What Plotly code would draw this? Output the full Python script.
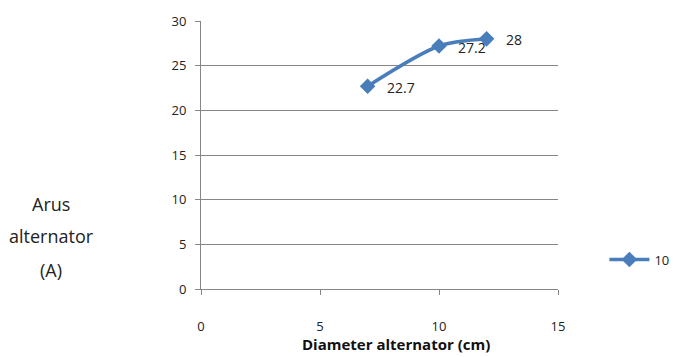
import plotly.graph_objects as go

diameter = [7, 10, 12]
arus = [22.7, 27.2, 28]
labels = ["22.7", "27.2", "28"]
series_name = "10"
x_ticks = [0, 5, 10, 15]
y_ticks = [0, 5, 10, 15, 20, 25, 30]
y_title_lines = ["Arus", "alternator", "(A)"]
x_title = "Diameter alternator (cm)"

FONT = "Open Sans"
COL = "#4A7EBB"

fig = go.Figure()
fig.add_trace(go.Scatter(
    x=diameter, y=arus, name=series_name,
    mode="lines+markers",
    line=dict(color=COL, width=3.5, shape="spline", smoothing=0.8),
    marker=dict(symbol="diamond", size=12, color=COL),
    cliponaxis=False,
))

for xv, yv, t in zip(diameter, arus, labels):
    fig.add_annotation(x=xv, y=yv, text=t, showarrow=False,
                       xanchor="left", yanchor="middle", xshift=17, yshift=-1,
                       font=dict(family=FONT, size=14, color="#222222"))

fig.update_layout(
    width=686, height=357,
    margin=dict(l=201, r=122, t=19, b=68),
    paper_bgcolor="white", plot_bgcolor="white",
    font=dict(family=FONT, size=13, color="#222222"),
    showlegend=True,
    legend=dict(x=1.13, y=0.11, xanchor="left", yanchor="middle",
                font=dict(family=FONT, size=13, color="#222222"),
                itemwidth=40, bgcolor="rgba(0,0,0,0)"),
    xaxis=dict(range=[0, 15], tickvals=x_ticks, showgrid=False,
               showline=True, linecolor="#868686", linewidth=1,
               ticks="outside", ticklen=5, tickcolor="#868686",
               ticklabelstandoff=20, zeroline=False,
               tickfont=dict(family=FONT, size=13, color="#222222")),
    yaxis=dict(range=[0, 30], tickvals=y_ticks, showgrid=True,
               gridcolor="#868686", gridwidth=1,
               showline=True, linecolor="#868686", linewidth=1,
               ticks="outside", ticklen=5, tickcolor="#868686",
               ticklabelstandoff=6, zeroline=False,
               tickfont=dict(family=FONT, size=13, color="#222222")),
)

for line, yp in zip(y_title_lines, [0.3185, 0.196, 0.070]):
    fig.add_annotation(
        text=line, xref="paper", yref="paper",
        x=-0.419, y=yp, xanchor="center", yanchor="middle", showarrow=False,
        font=dict(family=FONT, size=18, color="#222222"),
    )

fig.add_annotation(
    text="<b>" + x_title + "</b>", xref="paper", yref="paper",
    x=0.545, y=-0.205, xanchor="center", yanchor="middle", showarrow=False,
    font=dict(family=FONT, size=15, color="#111111"),
)

fig.write_html("out.html")
